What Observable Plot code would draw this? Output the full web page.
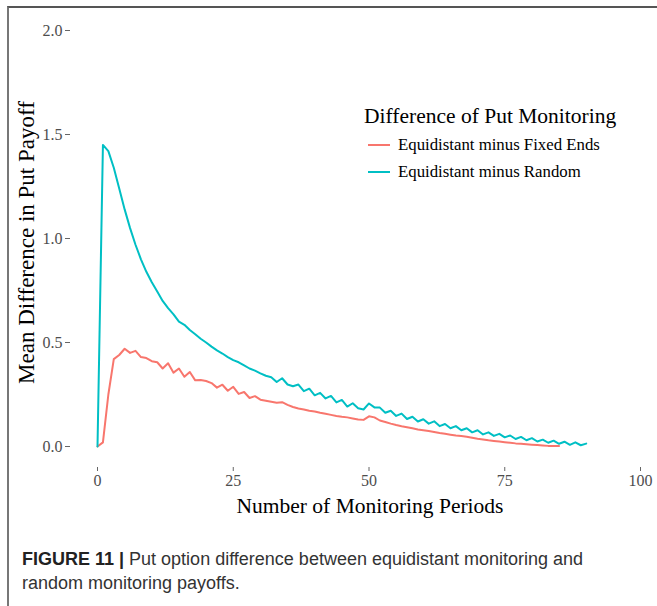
<!DOCTYPE html>
<html>
<head>
<meta charset="utf-8">
<script src="https://cdn.jsdelivr.net/npm/d3@7"></script>
<script src="https://cdn.jsdelivr.net/npm/@observablehq/plot@0.6"></script>
<style>
  html, body { margin: 0; padding: 0; background: #fff; }
  #wrap { position: relative; width: 657px; height: 606px; overflow: hidden; }
  #frame { position: absolute; left: 7px; top: 6px; right: -5px; bottom: -5px;
           border-top: 2px solid #555; border-left: 2px solid #777; }
  #chart { position: absolute; left: 0; top: 0; }
  #legend { position: absolute; left: 364px; top: 102px; font-family: "Liberation Serif", serif; color: #000; }
  #legend .title { font-size: 21.5px; line-height: 29px; }
  #legend .item { font-size: 16.8px; line-height: 27px; display: flex; align-items: center; margin-left: 4px; }
  #legend .item svg { margin-right: 8px; }
  #caption { position: absolute; left: 22px; top: 547px; width: 600px; font-family: "Liberation Sans", Arial, sans-serif;
             font-size: 18px; line-height: 24px; color: #333; }
  #caption b { color: #222; margin-right: 5px; }
</style>
</head>
<body>
<div id="wrap">
  <div id="frame"></div>
  <div id="chart"></div>
  <div id="legend"></div>
  <div id="caption"><b>FIGURE 11 |</b>Put option difference between equidistant monitoring and random monitoring payoffs.</div>
</div>
<script>
// ---- data ----
const seriesNames = ["Equidistant minus Fixed Ends", "Equidistant minus Random"];
const seriesColors = ["#F8766D", "#00BFC4"];
const legendTitle = "Difference of Put Monitoring";
const xLabel = "Number of Monitoring Periods";
const yLabel = "Mean Difference in Put Payoff";
const xTicks = [0, 25, 50, 75, 100];
const yTicks = [0, 0.5, 1.0, 1.5, 2.0];

// values at monitoring periods 0,1,2,...
const fixedEnds = [
  0, 0.02, 0.25, 0.42, 0.44, 0.47, 0.45, 0.46, 0.43, 0.425,
  0.41, 0.405, 0.375, 0.40, 0.355, 0.375, 0.335, 0.358, 0.318, 0.32,
  0.315, 0.305, 0.283, 0.297, 0.268, 0.287, 0.253, 0.262, 0.233, 0.242,
  0.225, 0.22, 0.215, 0.21, 0.213, 0.2, 0.19, 0.183, 0.178, 0.172,
  0.168, 0.162, 0.157, 0.152, 0.147, 0.143, 0.14, 0.135, 0.13, 0.128,
  0.145, 0.14, 0.125, 0.118, 0.11, 0.103, 0.097, 0.093, 0.088, 0.082,
  0.078, 0.074, 0.07, 0.065, 0.061, 0.057, 0.053, 0.05, 0.047, 0.042,
  0.037, 0.034, 0.03, 0.027, 0.024, 0.021, 0.018, 0.015, 0.013, 0.011,
  0.009, 0.007, 0.005, 0.003, 0.002, 0.002
];
const random = [
  0, 1.45, 1.42, 1.34, 1.24, 1.14, 1.05, 0.97, 0.90, 0.84,
  0.79, 0.745, 0.70, 0.665, 0.635, 0.60, 0.585, 0.56, 0.54, 0.518,
  0.50, 0.48, 0.462, 0.447, 0.43, 0.415, 0.405, 0.39, 0.375, 0.365,
  0.352, 0.34, 0.333, 0.31, 0.328, 0.298, 0.29, 0.298, 0.266, 0.278,
  0.246, 0.258, 0.231, 0.243, 0.212, 0.224, 0.192, 0.208, 0.184, 0.178,
  0.207, 0.188, 0.187, 0.162, 0.172, 0.147, 0.158, 0.132, 0.143, 0.12,
  0.131, 0.11, 0.121, 0.098, 0.108, 0.088, 0.098, 0.078, 0.088, 0.068,
  0.078, 0.058, 0.068, 0.051, 0.061, 0.044, 0.053, 0.036, 0.046, 0.03,
  0.04, 0.024, 0.033, 0.018, 0.028, 0.013, 0.023, 0.008, 0.02, 0.006,
  0.014
];

const rows = [
  ...fixedEnds.map((v, i) => ({period: i, value: v, series: seriesNames[0]})),
  ...random.map((v, i) => ({period: i, value: v, series: seriesNames[1]}))
];

const W = 657, H = 530;
const chart = Plot.plot({
  width: W, height: H,
  marginLeft: 70, marginRight: 0, marginTop: 9, marginBottom: 63,
  style: {fontFamily: "Liberation Serif, serif", fontSize: "16px", background: "transparent", overflow: "visible"},
  x: {domain: [0, 100], range: [97, 640]},
  y: {domain: [0, 2], range: [446, 30]},
  color: {domain: seriesNames, range: seriesColors},
  marks: [
    Plot.axisX({ticks: xTicks, tickSize: 4, tickPadding: 3, label: null, stroke: "#666", fill: "#4d4d4d", fontSize: 16}),
    Plot.axisY({ticks: yTicks, tickSize: 5, tickPadding: 3, label: null, tickFormat: d3.format(".1f"), stroke: "#666", fill: "#4d4d4d", fontSize: 16}),
    Plot.line(rows, {x: "period", y: "value", z: "series", stroke: "series", strokeWidth: 2}),
    Plot.text([xLabel], {frameAnchor: "bottom", textAnchor: "middle", dx: 6, dy: 45, fontSize: 21.5, fill: "#000"}),
    Plot.text([yLabel], {frameAnchor: "left", textAnchor: "middle", rotate: -90, dx: -44, dy: 4, fontSize: 23, fill: "#000"})
  ]
});
document.getElementById("chart").appendChild(chart);

// legend
const lg = document.getElementById("legend");
const t = document.createElement("div");
t.className = "title"; t.textContent = legendTitle; lg.appendChild(t);
seriesNames.forEach((name, i) => {
  const it = document.createElement("div");
  it.className = "item";
  it.innerHTML = `<svg width="22" height="6"><line x1="0" x2="22" y1="3" y2="3" stroke="${seriesColors[i]}" stroke-width="2"/></svg><span></span>`;
  it.querySelector("span").textContent = name;
  lg.appendChild(it);
});
</script>
</body>
</html>
